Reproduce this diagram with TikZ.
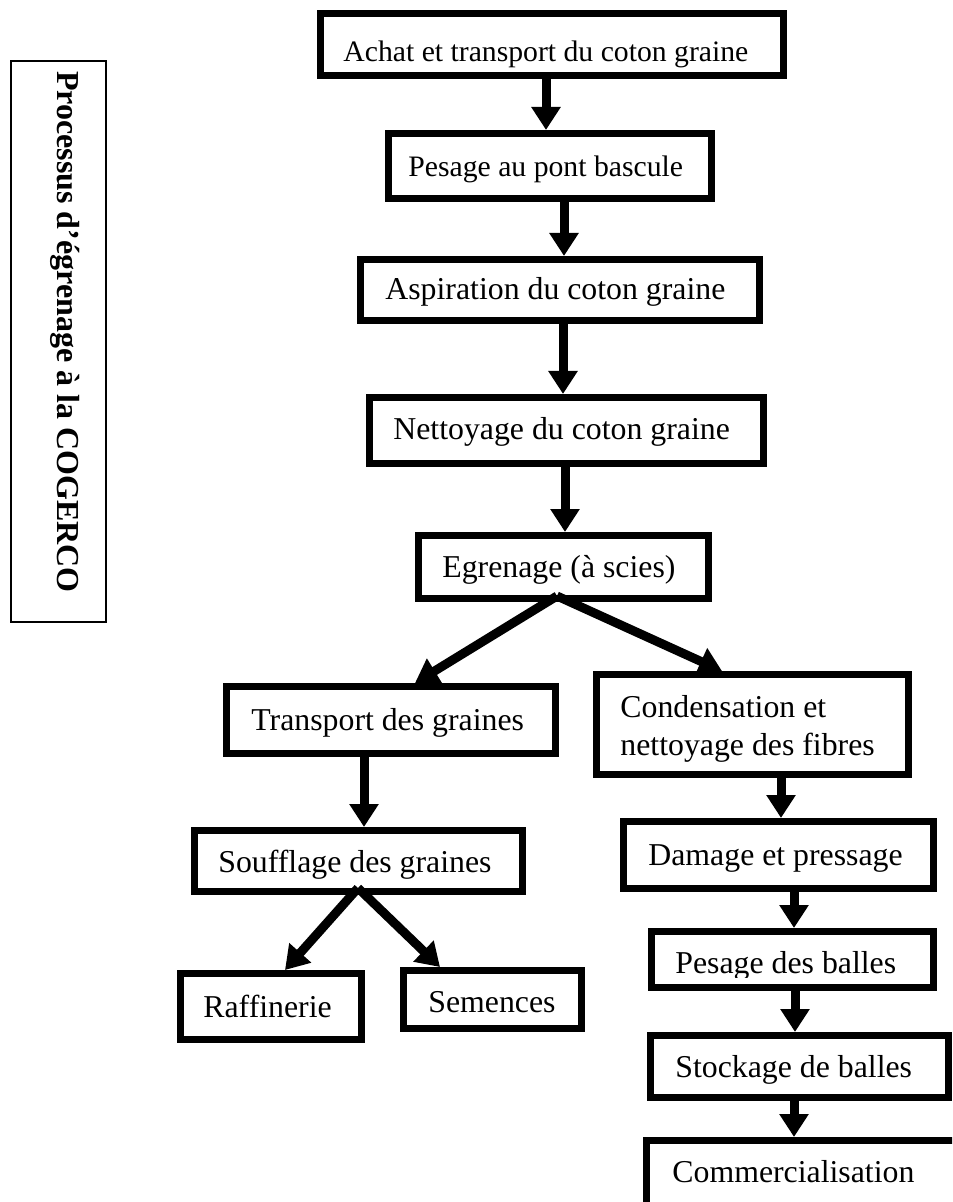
\documentclass[tikz,border=0pt]{standalone}
\usepackage{fontspec}
\setmainfont{Liberation Serif}
\usetikzlibrary{arrows.meta,fit}
\begin{document}
\begin{tikzpicture}[x=0.5pt,y=-0.5pt,
  box/.style={draw, line width=3.5pt, inner sep=0pt},
  sidebox/.style={draw, line width=1.25pt, inner sep=0pt},
  txtA/.style={anchor=base west, inner sep=0pt, font=\fontsize{14.85pt}{17pt}\selectfont},
  txtB/.style={anchor=base west, inner sep=0pt, font=\fontsize{15.9pt}{19pt}\selectfont},
  sidetxt/.style={anchor=base, inner sep=0pt, rotate=-90, font=\fontsize{16pt}{19pt}\selectfont\bfseries},
  arr/.style={line width=4.5pt, -{Triangle[width=14pt,length=11.5pt]}},
]
\useasboundingbox (0,0) rectangle (952,1202);
\clip (0,0) rectangle (952,1202);

% side title
\node[sidebox, fit={(11,61) (106,622)}] (side) {};
\node[sidetxt] (sidet) at (57,332) {Processus d’égrenage à la COGERCO};

% boxes
\node[box, fit={(320.5,13.5) (783.5,75.5)}] (b1) {};
\node[box, fit={(388.5,133.5) (711.5,198.5)}] (b2) {};
\node[box, fit={(360.5,259.5) (759.5,320.5)}] (b3) {};
\node[box, fit={(369.5,397.5) (763.5,463.5)}] (b4) {};
\node[box, fit={(418.5,535.5) (708.5,598.5)}] (b5) {};
\node[box, fit={(226.5,686.5) (555.5,753.5)}] (b6) {};
\node[box, fit={(596.5,674.5) (908.5,774.5)}] (b7) {};
\node[box, fit={(194.5,830.5) (522.5,891.5)}] (b8) {};
\node[box, fit={(623.5,821.5) (933.5,888.5)}] (b9) {};
\node[box, fit={(180.5,973.5) (361.5,1039.5)}] (b10) {};
\node[box, fit={(403.5,970.5) (581.5,1028.5)}] (b11) {};
\node[box, fit={(651.5,931.5) (933.5,987.5)}] (b12) {};
\node[box, fit={(650.5,1035.5) (948.5,1097.5)}] (b13) {};
\node[box, fit={(646.5,1140.5) (990,1240)}] (b14) {};

% texts
\node[txtA] (t1) at (343,62) {Achat et transport du coton graine};
\node[txtA] (t2) at (408,177) {Pesage au pont bascule};
\node[txtB] (t3) at (385,300) {Aspiration du coton graine};
\node[txtB] (t4) at (393,440) {Nettoyage du coton graine};
\node[txtB] (t5) at (442,577) {Egrenage (à scies)};
\node[txtB] (t6) at (251,730) {Transport des graines};
\node[txtB] (t7a) at (620,717) {Condensation et};
\node[txtB] (t7b) at (620,755) {nettoyage des fibres};
\node[txtB] (t8) at (218,872) {Soufflage des graines};
\node[txtB] (t9) at (648,865) {Damage et pressage};
\node[txtB] (t10) at (203,1017) {Raffinerie};
\node[txtB] (t11) at (428,1012) {Semences};
\begin{scope}
  \clip (655,935) rectangle (930,977);
  \node[txtB] (t12) at (675,973) {Pesage des balles};
\end{scope}
\node[txtB] (t13) at (675,1077) {Stockage de balles};
\node[txtB] (t14) at (672,1182) {Commercialisation};

% arrows
\draw[arr] (546,0 |- b1.south) -- (546,0 |- b2.north);
\draw[arr] (564,0 |- b2.south) -- (564,0 |- b3.north);
\draw[arr] (563,0 |- b3.south) -- (563,0 |- b4.north);
\draw[arr] (565,0 |- b4.south) -- (565,0 |- b5.north);
\draw[arr] ([yshift=3pt]557,0 |- b5.south) -- (415,0 |- b6.north);
\draw[arr] ([yshift=3pt]557,0 |- b5.south) -- (722,0 |- b7.north);
\draw[arr] (364,0 |- b6.south) -- (364,0 |- b8.north);
\draw[arr] ([yshift=3.5pt]358,0 |- b8.south) -- (285,0 |- b10.north);
\draw[arr] ([yshift=3.5pt]358,0 |- b8.south) -- (440,0 |- b11.north);
\draw[arr] (781,0 |- b7.south) -- (781,0 |- b9.north);
\draw[arr] (794,0 |- b9.south) -- (794,0 |- b12.north);
\draw[arr] (795,0 |- b12.south) -- (795,0 |- b13.north);
\draw[arr] (794,0 |- b13.south) -- (794,0 |- b14.north);
\end{tikzpicture}
\end{document}
